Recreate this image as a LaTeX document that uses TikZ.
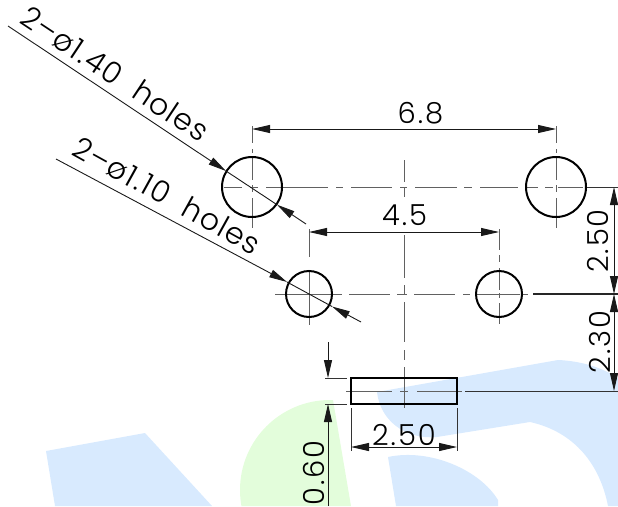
\documentclass[tikz,border=0pt]{standalone}
\usepackage{fontspec}
\setmainfont{Poppins Light}
\newfontfamily\dimfont[LetterSpace=7]{Poppins Light}
\newfontfamily\leaderfont[LetterSpace=4,Kerning=Off]{Poppins Light}
\usetikzlibrary{arrows.meta}
\definecolor{bluezone}{HTML}{D8EAFE}
\definecolor{greenzone}{HTML}{E3FDDB}
\tikzset{
  outline/.style={draw=black,line width=2pt},
  centerline/.style={draw=black!62,line width=1pt},
  thin line/.style={draw=black!80,line width=0.9pt},
  dimline/.style={draw=black!90,line width=0.9pt},
  both tips/.style={{Triangle[length=18pt,width=8pt]}-{Triangle[length=18pt,width=8pt]}},
  end tip/.style={-{Triangle[length=18pt,width=8pt]}},
  label/.style={font=\dimfont\fontsize{29}{29}\selectfont,inner sep=0pt,text=black},
  leaderlabel/.style={font=\leaderfont\fontsize{30}{30}\selectfont,inner sep=0pt,anchor=base,text=black},
}
\begin{document}
\begin{tikzpicture}[x=1pt,y=-1pt]
\useasboundingbox (0,0) rectangle (618,506);
% background shapes
\begin{scope}
\clip (0,0) rectangle (618,506);
\fill[bluezone] (46,451) -- (145,433) -- (212,506) -- (55,506) -- cycle;
\fill[bluezone] (377,392) -- (558,360) .. controls (582,361) and (603,368) .. (618,378)
  -- (618,506) -- (608,506) .. controls (600,465) and (575,432) .. (530,422) -- (437,437)
  .. controls (405,440) and (380,420) .. (377,392) -- cycle;
\fill[bluezone] (388,457) .. controls (430,448) and (480,470) .. (498,500) -- (498,506) -- (396,506) -- cycle;
\end{scope}
\begin{scope}
  \clip (333,400) -- (351,506) -- (235,506) -- (235,395) -- (333,395) -- cycle;
  \fill[greenzone] (330,490) circle [radius=90];
\end{scope}
% centre lines
\draw[centerline] (224,187)--(242,187) (250,187)--(258,187) (266,187)--(328,187) (336,187)--(343,187)
  (351,187)--(392,187) (400,187)--(407,187) (415,187)--(457,187) (464,187)--(472,187)
  (480,187)--(518,187) (527,187)--(538,187) (545,187)--(553,187) (558,187)--(583,187);
\draw[centerline] (275,294)--(342,294) (349,294)--(390,294) (397,294)--(407,294) (414,294)--(455,294)
  (463,294)--(470,294) (477,294)--(520,294) (523,294)--(528,294);
\draw[centerline] (346,391)--(392,391) (400,391)--(408,391) (417,391)--(457,391) (457,391)--(462,391);
\foreach \cx in {252,556}
  \draw[centerline] (\cx,126)--(\cx,143) (\cx,149)--(\cx,153) (\cx,157)--(\cx,180) (\cx,185)--(\cx,192) (\cx,198)--(\cx,228);
\draw[centerline] (404,160)--(404,182) (404,187)--(404,197) (404,235)--(404,278) (404,285)--(404,295)
  (404,302)--(404,342) (404,350)--(404,360) (404,367)--(404,408);
\draw[centerline] (309,229)--(309,257) (309,270)--(309,325);
\draw[centerline] (499,229)--(499,250) (499,255)--(499,262) (499,268)--(499,290) (499,293)--(499,298) (499,303)--(499,324);
% holes and body
\node[outline,circle,minimum size=60pt,inner sep=0pt] (holeA) at (252,187) {};
\node[outline,circle,minimum size=60pt,inner sep=0pt] (holeB) at (556,187) {};
\node[outline,circle,minimum size=46pt,inner sep=0pt] (holeC) at (309,294) {};
\node[outline,circle,minimum size=46pt,inner sep=0pt] (holeD) at (499,294) {};
\node[outline,rectangle,minimum width=106pt,minimum height=26pt,inner sep=0pt] (body) at (404,391) {};
% extension lines
\draw[thin line] (587,187)--(618,187);
\draw[draw=black!85,line width=1.1pt] (533,294)--(618,294);
\draw[thin line] (465,391)--(618,391);
\draw[thin line] (325,378)--(347,378);
\draw[thin line] (325,404)--(347,404);
\draw[thin line] (351,408)--(351,451);
\draw[thin line] (457,408)--(457,451);
% dimensions
\coordinate (d68a) at (252,129); \coordinate (d68b) at (556,129);
\coordinate (d45a) at (309,232); \coordinate (d45b) at (499,232);
\coordinate (d25a) at (614,187); \coordinate (d25b) at (614,294);
\coordinate (d23b) at (614,391);
\coordinate (d250a) at (351,447); \coordinate (d250b) at (457,447);
\draw[dimline,both tips] (d68a)--(d68b);
\draw[dimline,both tips] (d45a)--(d45b);
\draw[dimline,both tips] (d25a)--(d25b);
\draw[dimline,both tips] (d25b)--(d23b);
\draw[dimline,both tips] (d250a)--(d250b);
\coordinate (d06a) at (328,342); \coordinate (d06b) at (328,378);
\coordinate (d06c) at (328,506); \coordinate (d06d) at (328,404);
\draw[dimline,end tip] (d06a)--(d06b);
\draw[dimline,end tip] (d06c)--(d06d);
% leaders
\coordinate (l1a) at (8,26); \coordinate (l1t) at (226,171); \coordinate (l1r) at (306,224); \coordinate (l1s) at (277,204.7);
\coordinate (l2a) at (56,159); \coordinate (l2t) at (287,282); \coordinate (l2r) at (361,322); \coordinate (l2s) at (332,306.5);
\draw[dimline,end tip] (l1a)--(l1t);
\draw[dimline] (l1t)--(l1s);
\draw[dimline,end tip] (l1r)--(l1s);
\draw[dimline,end tip] (l2a)--(l2t);
\draw[dimline] (l2t)--(l2s);
\draw[dimline,end tip] (l2r)--(l2s);
% labels
\node[label] (t68) at (420.5,113) {6.8};
\node[label] (t45) at (404.5,215.5) {4.5};
\node[label,rotate=90] (t250r) at (597.5,241) {2.50};
\node[label,rotate=90] (t230) at (600,342) {2.30};
\node[label] (t250b) at (404,435) {2.50};
\node[label,rotate=90] (t060) at (314,473) {0.60};
\node[leaderlabel,rotate=-33.6] (tl1) at (109,83) {2–ø\kern1pt 1\kern2pt.\kern2pt 40\ \ holes};
\node[leaderlabel,rotate=-29] (tl2) at (162,205) {2–ø\kern1pt 1\kern2pt.\kern2pt 10\ \ holes};
\end{tikzpicture}
\end{document}
